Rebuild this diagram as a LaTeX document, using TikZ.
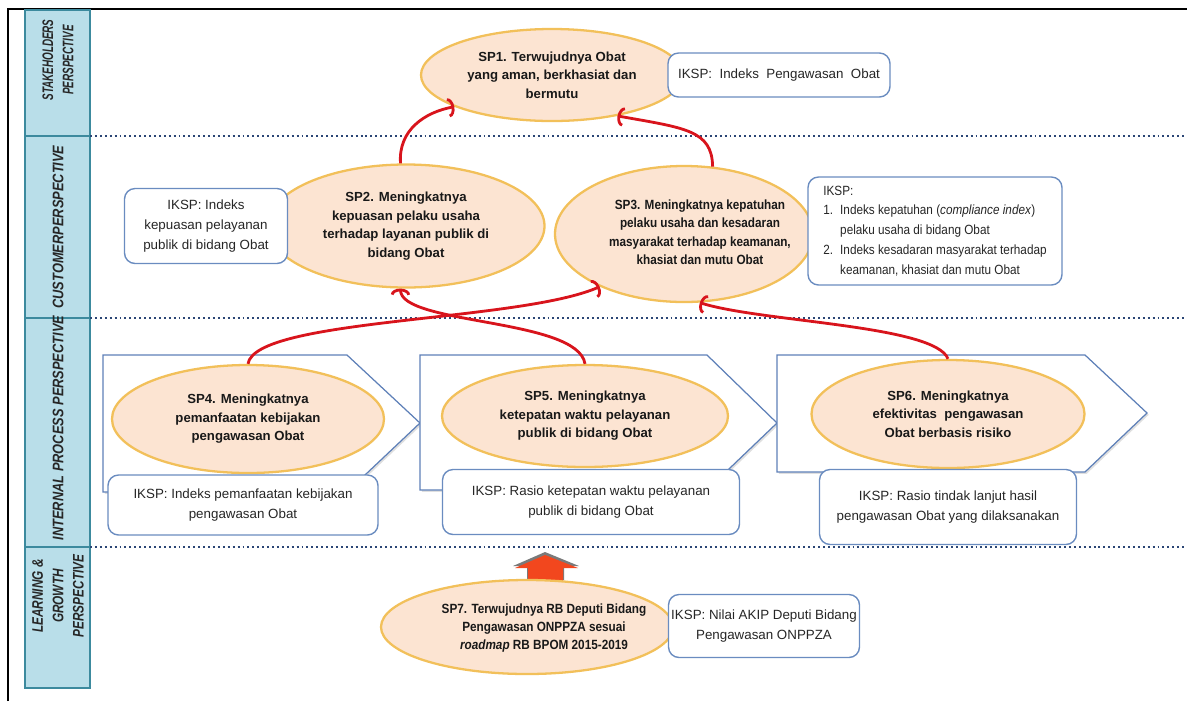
\documentclass[tikz,border=0pt]{standalone}
\usepackage{fontspec}
\setmainfont{Liberation Sans}
\newfontfamily\lblfont[FakeStretch=0.84]{Liberation Sans}
\newfontfamily\narrowfont[FakeStretch=0.88]{Liberation Sans}
\usetikzlibrary{shapes.geometric,arrows.meta,shadows}
\definecolor{ellfill}{HTML}{FCE4D2}
\definecolor{elldraw}{HTML}{F2C05A}
\definecolor{boxdraw}{HTML}{6A8CC0}
\definecolor{pentdraw}{HTML}{5E80B8}
\definecolor{colfill}{HTML}{B9DEE9}
\definecolor{coldraw}{HTML}{3C8A9E}
\definecolor{dotcol}{HTML}{2B4675}
\definecolor{arrred}{HTML}{D8141C}
\definecolor{blockred}{HTML}{F2471E}
\newcommand\pxw{0.02cm}
\tikzset{
  ell/.style={ellipse, draw=elldraw, line width=1.3pt, fill=ellfill, inner sep=0pt, align=center,
    font=\bfseries\fontsize{7.5}{10.5}\selectfont, text=black!90},
  elltext/.style={inner sep=0pt, align=center, font=\narrowfont\bfseries\fontsize{7.6}{10.5}\selectfont, text=black!90},
  iksp/.style={rectangle, rounded corners=6pt, draw=boxdraw, line width=0.8pt, fill=white, inner sep=0pt,
    align=center, font=\fontsize{7.6}{11.3}\selectfont, text=black!85},
  pent/.style={draw=pentdraw, line width=0.7pt, fill=white,
    drop shadow={opacity=0.25, shadow xshift=1pt, shadow yshift=-1pt}},
  colbox/.style={draw=coldraw, line width=1.2pt, fill=colfill},
  collbl/.style={rotate=90, align=center, inner sep=0pt, text=black!85,
    font=\lblfont\bfseries\itshape\fontsize{8.7}{11.6}\selectfont},
  dotline/.style={draw=dotcol, line width=1.3pt, dash pattern=on 1.1pt off 1.7pt},
  redarrow/.style={draw=arrred, line width=1.6pt, -{Arc Barb[length=3.5pt,width=11pt]}}
}
\begin{document}
\begin{tikzpicture}[x=0.02cm,y=-0.02cm]
\useasboundingbox (0,0) rectangle (1187,701);
% frame
\draw[line width=1.2pt] (8,701) -- (8,9) -- (1187,9);
% left column
\draw[colbox] (25,10) rectangle (90,136);
\draw[colbox] (25,136) rectangle (90,318);
\draw[colbox] (25,318) rectangle (90,547);
\draw[colbox] (25,547) rectangle (90,688);
\node[collbl] (l1) at (58,60) {\scalebox{0.77}[1]{STAKEHOLDERS}\\\scalebox{0.77}[1]{PERSPECTIVE}};
\node[collbl] (l2) at (58,227) {CUSTOMERPERSPECTIVE};
\node[collbl] (l3) at (58,428) {INTERNAL PROCESS PERSPECTIVE};
\node[collbl] (l4) at (58,596) {\scalebox{0.92}[1]{LEARNING \&}\\\scalebox{0.92}[1]{GROWTH}\\\scalebox{0.92}[1]{PERSPECTIVE}};
% dotted separators
\draw[dotline] (90,136) -- (1184,136);
\draw[dotline] (90,318) -- (1184,318);
\draw[dotline] (90,547) -- (1184,547);
% pentagons
\path[pent] (103,355) -- (347,355) -- (420,423) -- (347,492) -- (103,492) -- cycle;
\path[pent] (420,355) -- (707,355) -- (777,423) -- (707,490) -- (420,490) -- cycle;
\path[pent] (777,355) -- (1085,355) -- (1147,413) -- (1085,472) -- (777,472) -- cycle;
% block arrow
\fill[black!65, opacity=0.8] (545,552) -- (579,566) -- (564,566) -- (564,580) -- (527,580) -- (527,566) -- (513,566) -- cycle;
\fill[blockred] (545,555) -- (578,568) -- (563,568) -- (563,584) -- (528,584) -- (528,568) -- (515,568) -- cycle;
% ellipses
\node[ell, minimum width=262*\pxw, minimum height=92*\pxw] (sp1) at (552,75)
  {SP1. Terwujudnya Obat\\yang aman, berkhasiat dan\\bermutu};
\node[ell, minimum width=277*\pxw, minimum height=123*\pxw] (sp2) at (406,226)
  {SP2. Meningkatnya\\kepuasan pelaku usaha\\terhadap layanan publik di\\bidang Obat};
\node[ell, minimum width=258*\pxw, minimum height=136*\pxw] (sp3) at (684,234) {};
\node[elltext] (sp3t) at (700,232)
  {SP3. Meningkatnya kepatuhan\\pelaku usaha dan kesadaran\\masyarakat terhadap keamanan,\\khasiat dan mutu Obat};
\node[ell, minimum width=272*\pxw, minimum height=108*\pxw] (sp4) at (248,419)
  {SP4. Meningkatnya\\pemanfaatan kebijakan\\pengawasan Obat};
\node[ell, minimum width=286*\pxw, minimum height=102*\pxw] (sp5) at (585,416)
  {SP5. Meningkatnya\\ketepatan waktu pelayanan\\publik di bidang Obat};
\node[ell, minimum width=273*\pxw, minimum height=108*\pxw] (sp6) at (948,414)
  {SP6. Meningkatnya\\efektivitas\ \ pengawasan\\Obat berbasis risiko};
\node[ell, minimum width=292*\pxw, minimum height=94*\pxw] (sp7) at (527,627) {};
\node[elltext] (sp7t) at (544,628)
  {SP7. Terwujudnya RB Deputi Bidang\\Pengawasan ONPPZA sesuai\\\textit{roadmap} RB BPOM 2015-2019};
% IKSP boxes
\node[iksp, minimum width=222*\pxw, minimum height=44*\pxw] (k1) at (779,75)
  {IKSP:\ \ Indeks\ \ Pengawasan\ \ Obat};
\node[iksp, minimum width=163*\pxw, minimum height=75*\pxw] (k2) at (206,226)
  {IKSP: Indeks\\kepuasan pelayanan\\publik di bidang Obat};
\node[iksp, minimum width=254*\pxw, minimum height=108*\pxw, align=left, font=\narrowfont\fontsize{7.6}{11.3}\selectfont] (k3) at (935,231)
  {IKSP:\\
   \makebox[9.6pt][l]{1.}Indeks kepatuhan (\textit{compliance index})\\
   \hspace*{9.6pt}pelaku usaha di bidang Obat\\
   \makebox[9.6pt][l]{2.}Indeks kesadaran masyarakat terhadap\\
   \hspace*{9.6pt}keamanan, khasiat dan mutu Obat};
\node[iksp, minimum width=270*\pxw, minimum height=60*\pxw] (k4) at (243,505)
  {IKSP: Indeks pemanfaatan kebijakan\\pengawasan Obat};
\node[iksp, minimum width=297*\pxw, minimum height=65*\pxw] (k5) at (591,502)
  {IKSP: Rasio ketepatan waktu pelayanan\\publik di bidang Obat};
\node[iksp, minimum width=257*\pxw, minimum height=75*\pxw] (k6) at (948,507)
  {IKSP: Rasio tindak lanjut hasil\\pengawasan Obat yang dilaksanakan};
\node[iksp, minimum width=191*\pxw, minimum height=63*\pxw] (k7) at (764,626)
  {IKSP: Nilai AKIP Deputi Bidang\\Pengawasan ONPPZA};
% red causal arrows
\draw[redarrow] (sp2.95) .. controls (398,130) and (425,112) .. (sp1.198);
\draw[redarrow] (sp3.67) .. controls (712,130) and (685,128) .. (sp1.-32);
\draw[redarrow] (sp4.north) .. controls (255,318) and (520,322) .. (sp3.212);
\draw[redarrow] (sp5.north) .. controls (578,318) and (400,325) .. (sp2.-95);
\draw[redarrow] (sp6.north) .. controls (935,325) and (760,322) .. (sp3.-77);
\end{tikzpicture}
\end{document}
